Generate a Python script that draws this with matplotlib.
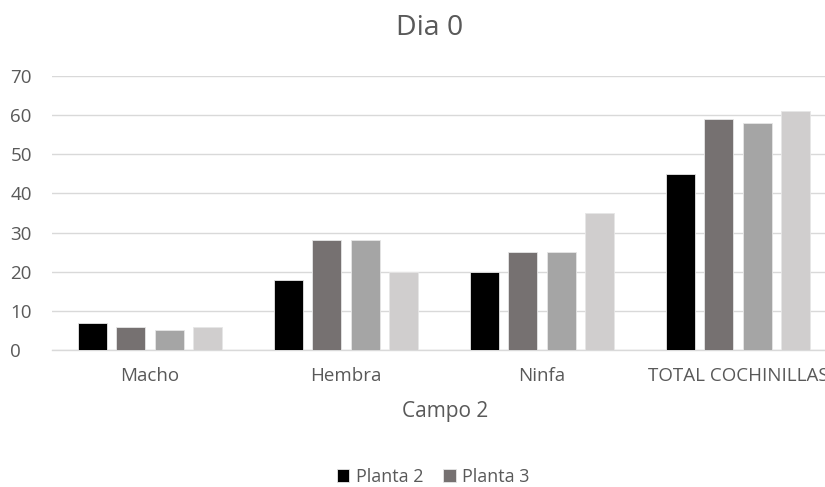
import matplotlib.pyplot as plt
import numpy as np

categories = ["Macho", "Hembra", "Ninfa", "TOTAL COCHINILLAS"]
series_names = ["Planta 2", "Planta 3", "Planta 4", "Planta 5"]
values = [
    [7, 18, 20, 45],
    [6, 28, 25, 59],
    [5, 28, 25, 58],
    [6, 20, 35, 61],
]
colors = ["#000000", "#767171", "#A5A5A5", "#D0CECE"]
legend_shown = ["Planta 2", "Planta 3"]

plt.rcParams["font.family"] = ["Open Sans", "DejaVu Sans"]
text_color = "#595959"
grid_color = "#D9D9D9"

fig = plt.figure(figsize=(8.25, 4.87), dpi=100)
W, H = 825, 487
ax = fig.add_axes([52 / W, (H - 350) / H, 784 / W, (350 - 76) / H])

x = np.arange(len(categories))
step = 0.194
width = 0.148
handles = []
for i, (name, vals, col) in enumerate(zip(series_names, values, colors)):
    b = ax.bar(x + (i - 1.5) * step, vals, width, color=col,
               edgecolor="#E6E6E6", linewidth=0.6, label=name, zorder=3)
    if name in legend_shown:
        handles.append(b)

ax.set_xlim(-0.5, len(categories) - 0.5)
ax.set_ylim(0, 70)
ax.set_yticks(range(0, 71, 10))
ax.set_xticks(x)
ax.set_xticklabels(categories)
ax.yaxis.grid(True, color=grid_color, linewidth=1, zorder=0)
ax.set_axisbelow(True)
for s in ["top", "right", "left"]:
    ax.spines[s].set_visible(False)
ax.spines["bottom"].set_color(grid_color)
ax.spines["bottom"].set_linewidth(1)
ax.tick_params(axis="both", length=0, labelsize=13.5, colors=text_color)
ax.tick_params(axis="x", pad=12)
ax.tick_params(axis="y", pad=30)
for lbl in ax.get_yticklabels():
    lbl.set_horizontalalignment("left")

fig.text(430 / W, 1 - 28 / H, "Dia 0", ha="center", va="center",
         fontsize=20.5, color=text_color)
fig.text(445 / W, 1 - 412 / H, "Campo 2", ha="center", va="center",
         fontsize=15, color=text_color)

fig.legend(handles=handles, labels=legend_shown, loc="center",
           bbox_to_anchor=(433 / W, 1 - 477 / H), ncol=2, frameon=False,
           fontsize=13, labelcolor=text_color, handlelength=0.7,
           handleheight=0.7, handletextpad=0.35, columnspacing=1.1)

fig.savefig("out.png", dpi=100)
